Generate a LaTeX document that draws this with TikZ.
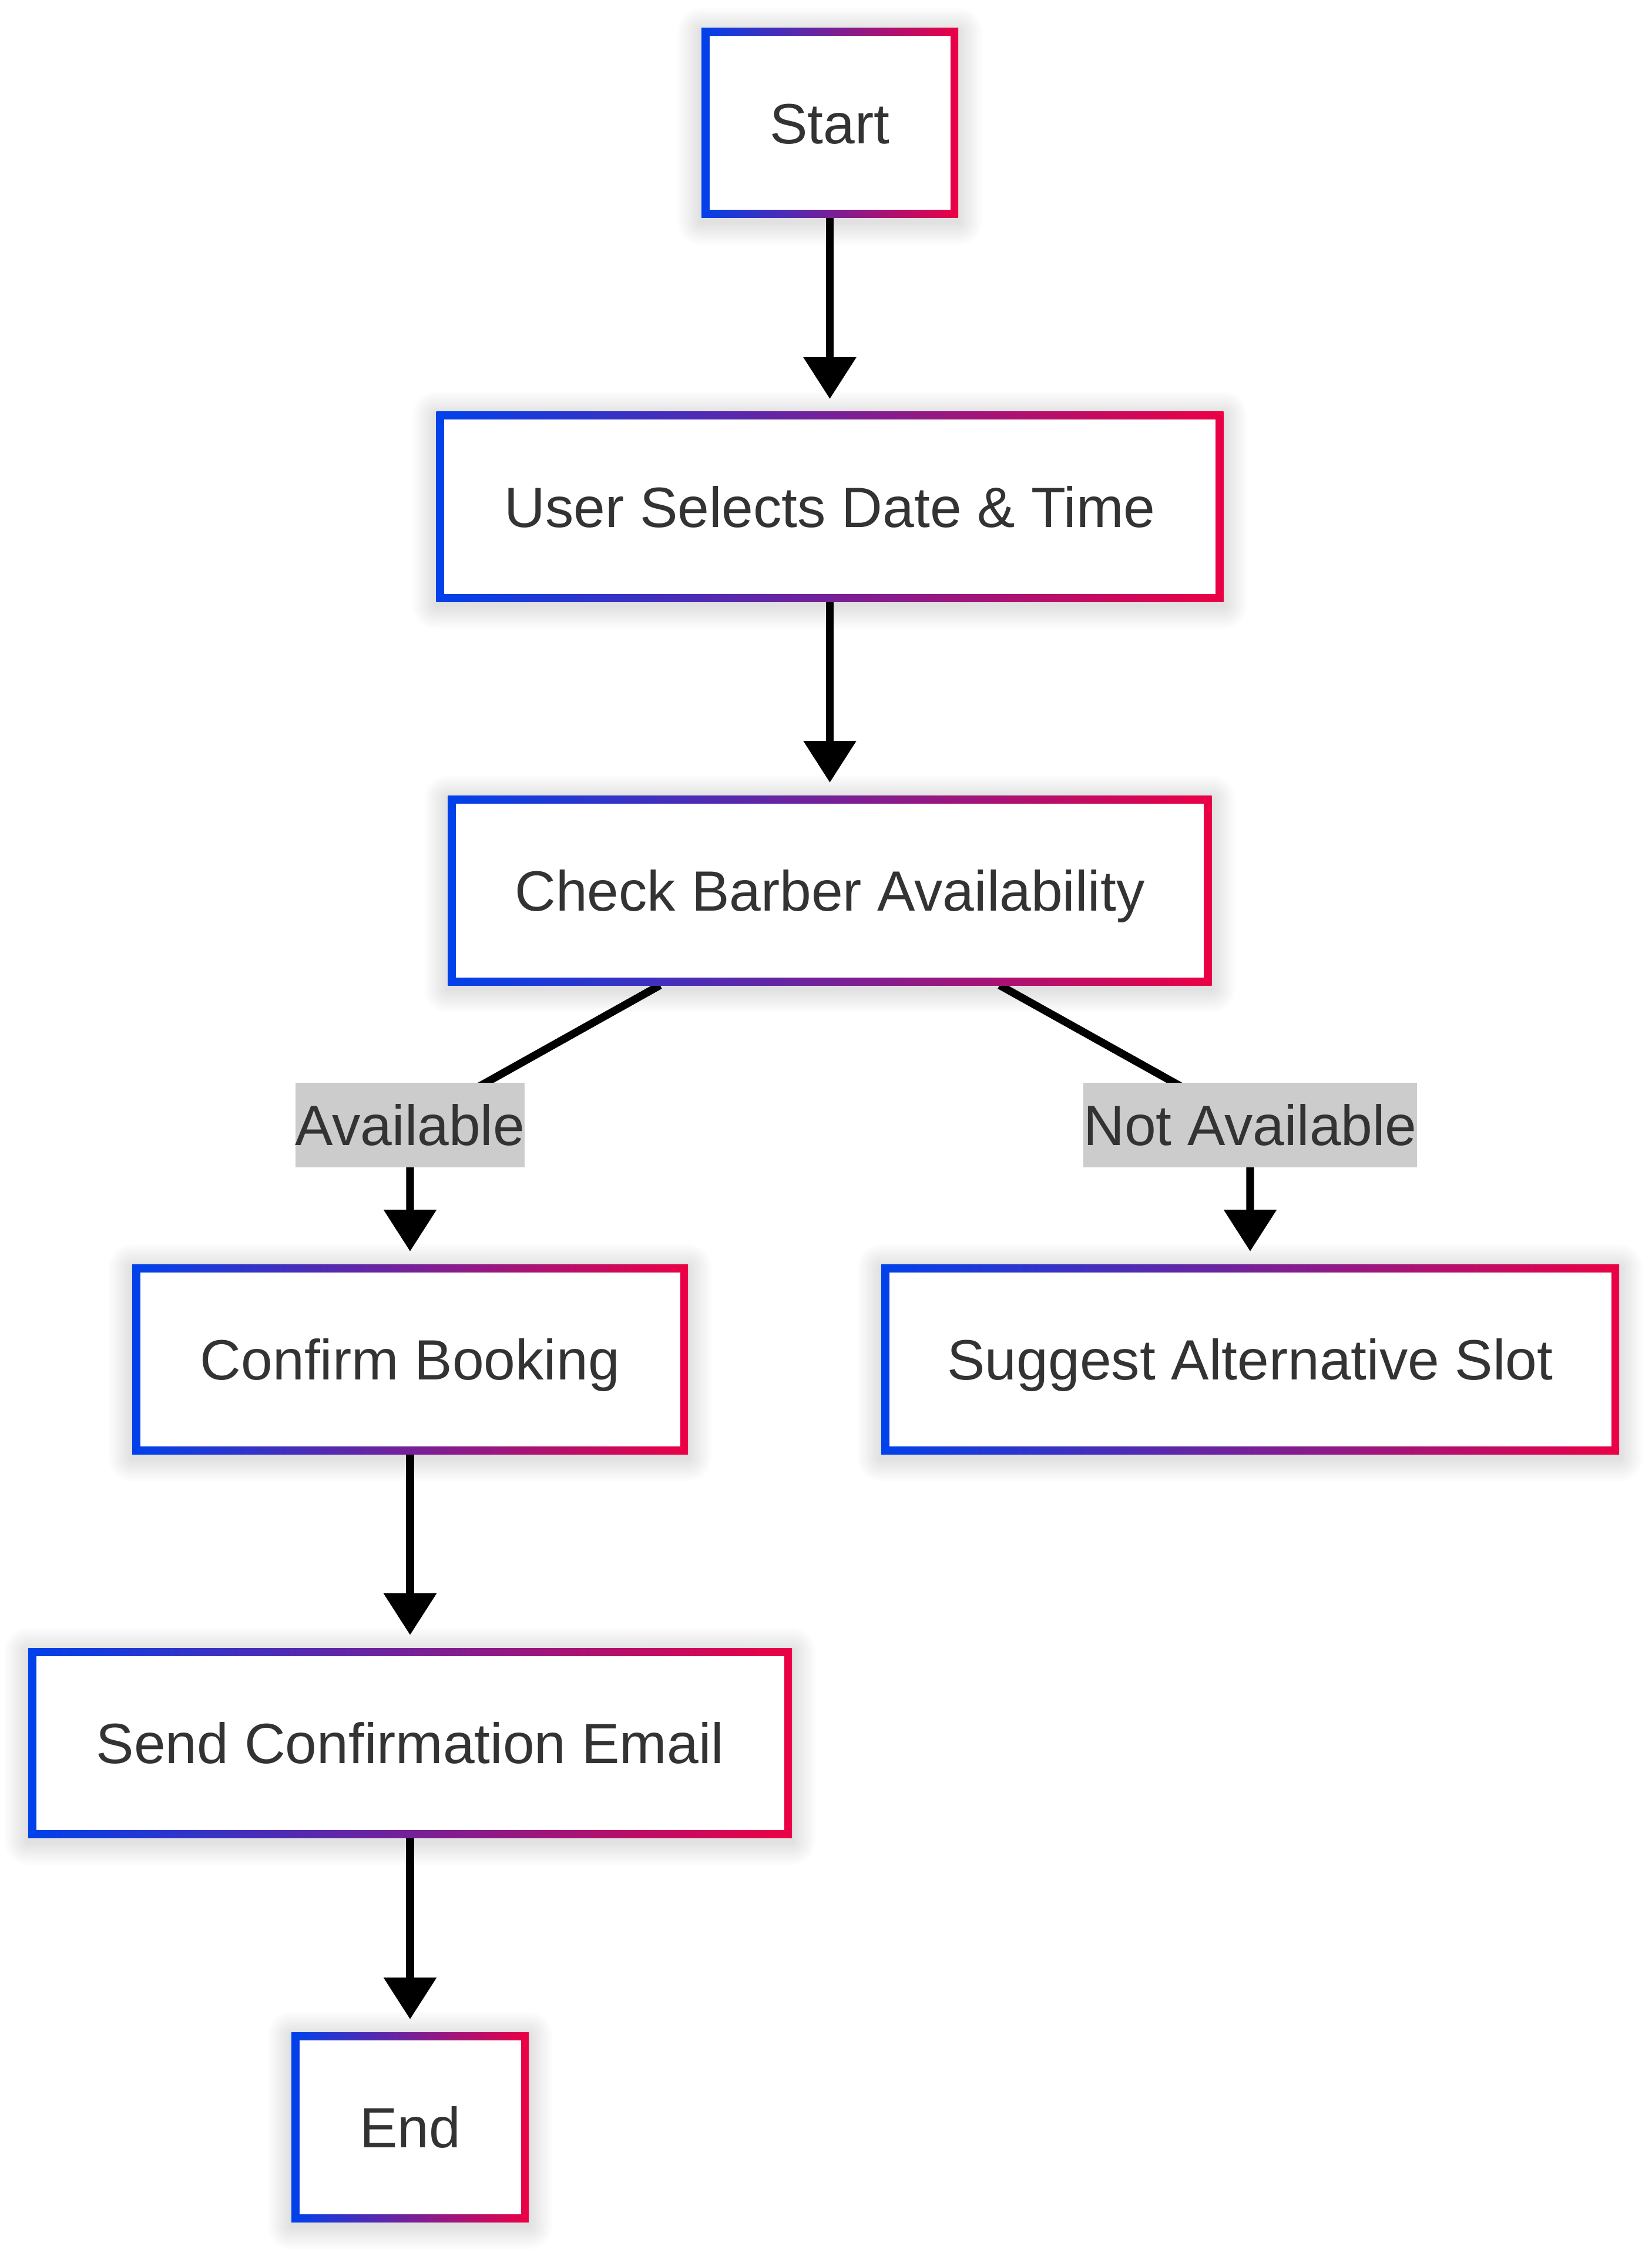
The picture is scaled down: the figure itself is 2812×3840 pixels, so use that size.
\documentclass[tikz,border=0pt]{standalone}
\usepackage{fontspec}
\setmainfont{Liberation Sans}
\usetikzlibrary{arrows.meta}
\definecolor{gblue}{RGB}{0,65,235}
\definecolor{gred}{RGB}{235,0,69}
\definecolor{txtc}{RGB}{51,51,51}
\definecolor{lblgray}{RGB}{204,204,204}
\pgfdeclarelayer{shadowlayer}
\pgfdeclarelayer{edgelayer}
\pgfsetlayers{shadowlayer,edgelayer,main}
\tikzset{
  gbox/.style={rectangle, draw=none, outer sep=0pt, inner sep=0pt,
    minimum height=80.75pt, text=txtc,
    font=\fontsize{24.15pt}{29pt}\selectfont, text height=17.3pt, text depth=0pt,
    path picture={
      \shade[left color=gblue, right color=gred]
        (path picture bounding box.south west) rectangle (path picture bounding box.north east);
      \fill[white]
        ([shift={(3.375pt,3.375pt)}]path picture bounding box.south west) rectangle
        ([shift={(-3.375pt,-3.375pt)}]path picture bounding box.north east);
    }},
  elabel/.style={rectangle, fill=lblgray, text=txtc, inner xsep=0pt, inner ysep=0pt,
    minimum height=36pt, outer sep=0pt,
    font=\fontsize{24.15pt}{29pt}\selectfont, text height=17.3pt, text depth=0pt},
  flow/.style={draw=black, line width=3.3pt,
    -{Triangle[width=21.75pt,length=17.75pt]}, shorten >=5.5pt},
}
\begin{document}
\begin{tikzpicture}[x=0.25pt, y=-0.25pt]
\useasboundingbox (0,0) rectangle (2812,3840);

% boxes
\node[gbox, minimum width=109.25pt] (start)   at (1412.5,209.5)  {Start};
\node[gbox, minimum width=335pt]    (user)    at (1412.5,862.5)  {User Selects Date \& Time};
\node[gbox, minimum width=325pt]    (check)   at (1412.5,1515.5) {Check Barber Availability};
\node[gbox, minimum width=236.5pt]  (confirm) at (698,2313.5)    {Confirm Booking};
\node[gbox, minimum width=314pt]    (suggest) at (2128,2313.5)   {Suggest Alternative Slot};
\node[gbox, minimum width=325pt]    (send)    at (698,2966.5)    {Send Confirmation Email};
\node[gbox, minimum width=101pt]    (endn)    at (698,3620.5)    {End};

% edge labels
\node[elabel] (lab1) at (698,1915)  {Available};
\node[elabel] (lab2) at (2128,1915) {Not Available};

% soft shadows
\begin{pgfonlayer}{shadowlayer}
\foreach \n in {start,user,check,confirm,suggest,send,endn}{
  \foreach \k in {1,...,10}{
    \fill[black, opacity=0.012, rounded corners=\k*1pt]
      ([shift={({-\k*1pt},{\k*1pt-1.5pt})}]\n.north west) rectangle
      ([shift={({\k*1pt},{-\k*1pt-1.5pt})}]\n.south east);
  }
}
\end{pgfonlayer}

% connectors
\begin{pgfonlayer}{edgelayer}
\draw[flow] (start) -- (user);
\draw[flow] (user) -- (check);
\draw[flow] ([xshift=-72.25pt]check.south) -- (lab1.center) -- (confirm.north);
\draw[flow] ([xshift=72.25pt]check.south) -- (lab2.center) -- (suggest.north);
\draw[flow] (confirm) -- (send);
\draw[flow] (send) -- (endn);
\end{pgfonlayer}
\end{tikzpicture}
\end{document}
